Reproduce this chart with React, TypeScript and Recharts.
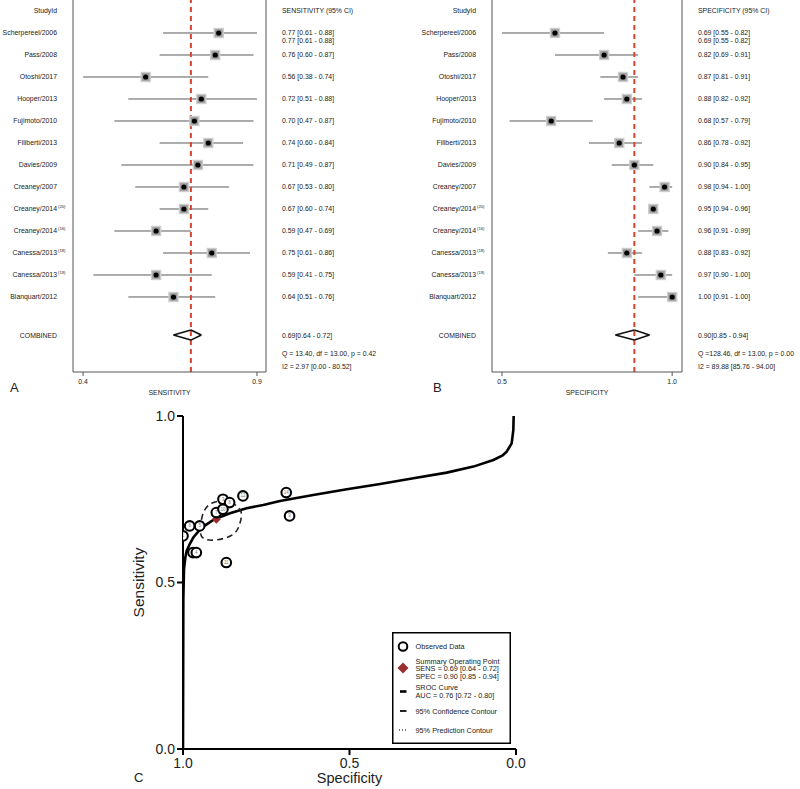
import { Label, ReferenceLine, Scatter, ScatterChart, XAxis, YAxis } from 'recharts';

const studies = [
  'Scherpereel/2006', 'Pass/2008', 'Otoshi/2017', 'Hooper/2013', 'Fujimoto/2010', 'Filiberti/2013',
  'Davies/2009', 'Creaney/2007', 'Creaney/2014', 'Creaney/2014', 'Canessa/2013', 'Canessa/2013', 'Blanquart/2012',
];
const refs = ['', '', '', '', '', '', '', '', '(20)', '(16)', '(18)', '(19)', ''];

const sens = [0.77, 0.76, 0.56, 0.72, 0.70, 0.74, 0.71, 0.67, 0.67, 0.59, 0.75, 0.59, 0.64];
const sensLo = [0.61, 0.60, 0.38, 0.51, 0.47, 0.60, 0.49, 0.53, 0.60, 0.47, 0.61, 0.41, 0.51];
const sensHi = [0.88, 0.87, 0.74, 0.88, 0.87, 0.84, 0.87, 0.80, 0.74, 0.69, 0.86, 0.75, 0.76];

const spec = [0.69, 0.82, 0.87, 0.88, 0.68, 0.86, 0.90, 0.98, 0.95, 0.96, 0.88, 0.97, 1.00];
const specLo = [0.55, 0.69, 0.81, 0.82, 0.57, 0.78, 0.84, 0.94, 0.94, 0.91, 0.83, 0.90, 0.91];
const specHi = [0.82, 0.91, 0.91, 0.92, 0.79, 0.92, 0.95, 1.00, 0.96, 0.99, 0.92, 1.00, 1.00];

const pooledSens = [0.69, 0.64, 0.72];
const pooledSpec = [0.90, 0.85, 0.94];
const sensStats = ['Q = 13.40, df = 13.00, p =  0.42', 'I2 = 2.97 [0.00 - 80.52]'];
const specStats = ['Q =128.46, df = 13.00, p =  0.00', 'I2 = 89.88 [85.76 - 94.00]'];

const sensTicks = [0.38, 0.88];
const sensTickLabels = ['0.4', '0.9'];
const specTicks = [0.55, 1.0];
const specTickLabels = ['0.5', '1.0'];

// numbers printed in the SROC circles (same order as studies)
const pointNums = ['14', '12', '11', '10', '9', '8', '7', '6', '5', '4', '3', '2', '1'];

// SROC curve (specificity, sensitivity)
const srocSpec = [1.0, 0.999, 0.997, 0.993, 0.989, 0.979, 0.969, 0.955, 0.939, 0.909, 0.859, 0.809, 0.759, 0.709,
  0.609, 0.508, 0.408, 0.308, 0.208, 0.128, 0.068, 0.04, 0.028, 0.013, 0.008, 0.007];
const srocSens = [0.0, 0.45, 0.54, 0.575, 0.595, 0.617, 0.635, 0.652, 0.668, 0.688, 0.708, 0.723, 0.733, 0.745,
  0.763, 0.78, 0.796, 0.813, 0.83, 0.848, 0.868, 0.882, 0.893, 0.918, 0.958, 1.0];

// 95% confidence contour
const contourSpec = [0.949, 0.939, 0.914, 0.879, 0.849, 0.826, 0.829, 0.849, 0.899, 0.939, 0.949];
const contourSens = [0.658, 0.709, 0.738, 0.745, 0.737, 0.713, 0.678, 0.645, 0.628, 0.633, 0.658];

const sccTicks = [0, 0.5, 1];

const RED = '#d8432e';
const TXT = '#222';
const FS = 6.9;

// row layout of the forest plots (in row units)
const TOP_ROW = -1.5;
const BOTTOM_ROW = 15.41;
const HEAD_ROW = -1;
const DUP_ROW = 0.36;
const POOL_ROW = 13.73;
const STAT_ROWS = [14.59, 15.14];

const fmt = (v: number) => v.toFixed(2);

const Marker = (p: any) => (
  <g>
    <rect x={p.cx - 4.5} y={p.cy - 4.5} width={9} height={9} fill="#9c9c9c" stroke="#cdcdcd" strokeWidth={1.4} />
    <circle cx={p.cx} cy={p.cy} r={2.6} fill="#000" />
  </g>
);

function Forest(props: any) {
  const { x0, est, lo, hi, pooled, stats, header, title, ticks, tickLabels, domain, leftW, rightW, labelX, textX } = props;
  const marks = est.map((v: number, i: number) => ({ x: v, y: i }));

  const leftVals = [HEAD_ROW, ...studies.map((_, i) => i), POOL_ROW];
  const leftText = ['StudyId', ...studies, 'COMBINED'];
  const leftSup = ['', ...refs, ''];

  const ci = est.map((v: number, i: number) => `${fmt(v)} [${fmt(lo[i])} - ${fmt(hi[i])}]`);
  const rightVals = [HEAD_ROW, 0, DUP_ROW, ...studies.slice(1).map((_, i) => i + 1), POOL_ROW, STAT_ROWS[0], STAT_ROWS[1]];
  const rightText = [header, ci[0], ci[0], ...ci.slice(1), `${fmt(pooled[0])}[${fmt(pooled[1])} - ${fmt(pooled[2])}]`, stats[0], stats[1]];

  const h = 0.23;
  const dia = [
    [[pooled[1], POOL_ROW], [pooled[0], POOL_ROW - h]],
    [[pooled[0], POOL_ROW - h], [pooled[2], POOL_ROW]],
    [[pooled[2], POOL_ROW], [pooled[0], POOL_ROW + h]],
    [[pooled[0], POOL_ROW + h], [pooled[1], POOL_ROW]],
  ];

  return (
    <div style={{ position: 'absolute', left: x0, top: 0 }}>
      <ScatterChart width={400} height={410} margin={{ top: 0, right: 0, bottom: 0, left: 0 }}>
        <XAxis
          type="number"
          dataKey="x"
          domain={domain}
          allowDataOverflow
          ticks={ticks}
          interval={0}
          tickFormatter={(v: number) => tickLabels[ticks.indexOf(v)]}
          height={38}
          stroke="#555"
          tickSize={4}
          tickMargin={3}
          tick={{ fontSize: FS, fill: TXT }}
        >
          <Label value={title} position="insideBottom" offset={15} fontSize={FS} fill={TXT} />
        </XAxis>
        <YAxis
          yAxisId="l"
          type="number"
          dataKey="y"
          domain={[TOP_ROW, BOTTOM_ROW]}
          reversed
          allowDataOverflow
          width={leftW}
          ticks={leftVals}
          interval={0}
          tickLine={false}
          stroke="#555"
          tick={(p: any) => {
            const k = leftVals.indexOf(p.payload.value);
            return (
              <g>
                <text x={labelX} y={p.y} textAnchor="end" dominantBaseline="central" fontSize={FS} fill={TXT}>
                  {leftText[k]}
                </text>
                {leftSup[k] ? (
                  <text x={labelX + 1} y={p.y - 2.5} dominantBaseline="central" fontSize={4.2} fill={TXT}>
                    {leftSup[k]}
                  </text>
                ) : null}
              </g>
            );
          }}
        />
        <YAxis
          yAxisId="r"
          orientation="right"
          type="number"
          domain={[TOP_ROW, BOTTOM_ROW]}
          reversed
          allowDataOverflow
          width={rightW}
          ticks={rightVals}
          interval={0}
          tickLine={false}
          stroke="#555"
          tick={(p: any) => {
            const k = rightVals.indexOf(p.payload.value);
            return (
              <text x={textX} y={p.y} textAnchor="start" dominantBaseline="central" fontSize={FS} fill={TXT}>
                {rightText[k]}
              </text>
            );
          }}
        />
        {marks.map((_: any, i: number) => (
          <ReferenceLine
            key={'ci' + i}
            yAxisId="l"
            segment={[{ x: lo[i], y: i }, { x: hi[i], y: i }]}
            stroke="#5a5a5a"
            strokeWidth={1}
          />
        ))}
        <ReferenceLine yAxisId="l" x={pooled[0]} stroke={RED} strokeWidth={2} strokeDasharray="5 4" />
        {dia.map((s, i) => (
          <ReferenceLine
            key={'d' + i}
            yAxisId="l"
            segment={[{ x: s[0][0], y: s[0][1] }, { x: s[1][0], y: s[1][1] }]}
            stroke="#111"
            strokeWidth={1.6}
          />
        ))}
        <Scatter yAxisId="l" data={marks} shape={Marker} isAnimationActive={false} />
      </ScatterChart>
    </div>
  );
}

const ObsDot = (p: any) => (
  <g>
    <circle cx={p.cx} cy={p.cy} r={4.8} fill="#fff" stroke="#000" strokeWidth={2.1} />
    <text x={p.cx} y={p.cy} textAnchor="middle" dominantBaseline="central" fontSize={4.5} fill="#777">
      {p.payload.n}
    </text>
  </g>
);

const SumDot = (p: any) => (
  <polygon
    points={`${p.cx - 4.5},${p.cy} ${p.cx},${p.cy - 4.5} ${p.cx + 4.5},${p.cy} ${p.cx},${p.cy + 4.5}`}
    fill="#9b2d30"
  />
);

const NoDot = () => <g />;

function Sroc() {
  const curve = srocSpec.map((s, i) => ({ x: s, y: srocSens[i] }));
  const contour = contourSpec.map((s, i) => ({ x: s, y: contourSens[i] }));
  const obs = spec.map((s, i) => ({ x: s, y: sens[i], n: pointNums[i] })).reverse();
  const summary = [{ x: pooledSpec[0], y: pooledSens[0] }];

  return (
    <div style={{ position: 'absolute', left: 100, top: 400 }}>
      <ScatterChart width={440} height={389} margin={{ top: 16, right: 24, bottom: 0, left: 0 }}>
        <XAxis
          type="number"
          dataKey="x"
          domain={[0, 1]}
          reversed
          allowDataOverflow
          ticks={sccTicks}
          interval={0}
          tickFormatter={(v: number) => v.toFixed(1)}
          height={40}
          stroke="#000"
          strokeWidth={2}
          tickSize={6}
          tickMargin={3}
          tick={{ fontSize: 14, fill: '#222' }}
        >
          <Label value="Specificity" position="insideBottom" offset={6} fontSize={14.5} fill="#222" />
        </XAxis>
        <YAxis
          type="number"
          dataKey="y"
          domain={[0, 1]}
          allowDataOverflow
          ticks={sccTicks}
          interval={0}
          tickFormatter={(v: number) => v.toFixed(1)}
          width={83}
          stroke="#000"
          strokeWidth={2}
          tickSize={6}
          tickMargin={2}
          tick={{ fontSize: 14, fill: '#222' }}
        >
          <Label
            content={(lp: any) => {
              const vb = lp.viewBox;
              const cx = vb.x + 38;
              const cy = vb.y + vb.height / 2;
              return (
                <text
                  x={cx}
                  y={cy}
                  transform={`rotate(-90, ${cx}, ${cy})`}
                  textAnchor="middle"
                  dominantBaseline="central"
                  fontSize={15.5}
                  fill="#222"
                >
                  Sensitivity
                </text>
              );
            }}
          />
        </YAxis>
        <Scatter data={curve} line={{ stroke: '#000', strokeWidth: 2.6 }} shape={NoDot} isAnimationActive={false} />
        <Scatter
          data={contour}
          line={{ stroke: '#222', strokeWidth: 1.6, strokeDasharray: '6 4' }}
          lineJointType="natural"
          shape={NoDot}
          isAnimationActive={false}
        />
        <Scatter data={summary} shape={SumDot} isAnimationActive={false} />
        <Scatter data={obs} shape={ObsDot} isAnimationActive={false} />
      </ScatterChart>
    </div>
  );
}

function SrocLegend() {
  const t = { fontSize: 7.3, fill: '#222' };
  return (
    <svg
      width={119}
      height={112}
      style={{ position: 'absolute', left: 392, top: 632 }}
    >
      <rect x={0.75} y={0.75} width={117.5} height={110.5} fill="#fff" stroke="#000" strokeWidth={1.5} />
      <circle cx={11} cy={14.5} r={4.3} fill="#fff" stroke="#000" strokeWidth={2} />
      <text x={23.5} y={14.7} dominantBaseline="central" {...t}>Observed Data</text>
      <polygon points="5.5,36 11,30.5 16.5,36 11,41.5" fill="#9b2d30" />
      <text x={23.5} y={29} dominantBaseline="central" {...t}>Summary Operating Point</text>
      <text x={23.5} y={36.5} dominantBaseline="central" {...t}>SENS = 0.69 [0.64 - 0.72]</text>
      <text x={23.5} y={44} dominantBaseline="central" {...t}>SPEC = 0.90 [0.85 - 0.94]</text>
      <line x1={8} x2={14.5} y1={59.5} y2={59.5} stroke="#000" strokeWidth={2.6} />
      <text x={23.5} y={55.5} dominantBaseline="central" {...t}>SROC Curve</text>
      <text x={23.5} y={63} dominantBaseline="central" {...t}>AUC = 0.76 [0.72 - 0.80]</text>
      <line x1={8} x2={14.5} y1={79} y2={79} stroke="#222" strokeWidth={2} />
      <text x={23.5} y={79} dominantBaseline="central" {...t}>95% Confidence Contour</text>
      <line x1={7} x2={15} y1={98} y2={98} stroke="#444" strokeWidth={1.4} strokeDasharray="1 2" />
      <text x={23.5} y={98} dominantBaseline="central" {...t}>95% Prediction Contour</text>
    </svg>
  );
}

export default function App() {
  return (
    <div
      style={{
        position: 'fixed',
        left: 0,
        top: 0,
        width: 800,
        height: 789,
        background: '#fff',
        overflow: 'hidden',
        fontFamily: '"Liberation Sans", Arial, sans-serif',
      }}
    >
      <Forest
        x0={0}
        est={sens}
        lo={sensLo}
        hi={sensHi}
        pooled={pooledSens}
        stats={sensStats}
        header="SENSITIVITY (95% CI)"
        title="SENSITIVITY"
        ticks={sensTicks}
        tickLabels={sensTickLabels}
        domain={[0.351, 0.906]}
        leftW={73}
        rightW={134}
        labelX={57}
        textX={282}
      />
      <Forest
        x0={400}
        est={spec}
        lo={specLo}
        hi={specHi}
        pooled={pooledSpec}
        stats={specStats}
        header="SPECIFICITY (95% CI)"
        title="SPECIFICITY"
        ticks={specTicks}
        tickLabels={specTickLabels}
        domain={[0.5235, 1.026]}
        leftW={92}
        rightW={118}
        labelX={76}
        textX={298}
      />
      <Sroc />
      <SrocLegend />
      <div style={{ position: 'absolute', left: 10, top: 380, fontSize: 13, color: '#222' }}>A</div>
      <div style={{ position: 'absolute', left: 433, top: 380, fontSize: 13, color: '#222' }}>B</div>
      <div style={{ position: 'absolute', left: 134, top: 770, fontSize: 13, color: '#222' }}>C</div>
    </div>
  );
}
